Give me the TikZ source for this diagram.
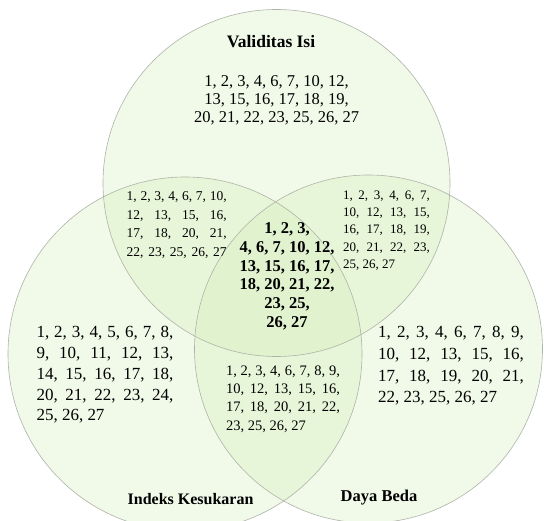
\documentclass[tikz,border=0pt]{standalone}
\usepackage{fontspec}
\setmainfont{Liberation Serif}
\definecolor{vennfill}{RGB}{215,238,190}
\definecolor{vennline}{RGB}{175,180,168}
\tikzset{
  venn/.style={fill=vennfill, fill opacity=0.35},
  vennedge/.style={draw=vennline, line width=0.6pt},
  blk/.style={anchor=base west, inner sep=0pt, outer sep=0pt},
  blkc/.style={anchor=base, inner sep=0pt, outer sep=0pt},
}
\newcommand{\jl}[1]{\makebox[\linewidth][s]{#1}}
\begin{document}
\begin{tikzpicture}[x=1pt,y=-1pt]
\useasboundingbox (0,0) rectangle (544,521);
\clip (0,0) rectangle (544,521);
\fill[white] (0,0) rectangle (544,521);
\coordinate (cT) at (276.5,183);
\coordinate (cL) at (185,354);
\coordinate (cR) at (368.5,349);
\fill[venn] (cT) circle[radius=173.5pt];
\fill[venn] (cL) circle[radius=177pt];
\fill[venn] (cR) circle[radius=174pt];
\draw[vennedge] (cT) circle[radius=173.5pt];
\draw[vennedge] (cL) circle[radius=177pt];
\draw[vennedge] (cR) circle[radius=174pt];

\node[blkc] (labT) at (271,47.8) {\fontsize{17.5}{20}\selectfont\bfseries Validitas Isi};
\node[blkc] (labL) at (190.6,504.3) {\fontsize{16}{19}\selectfont\bfseries Indeks Kesukaran};
\node[blkc] (labR) at (379,501.5) {\fontsize{16.5}{19}\selectfont\bfseries Daya Beda};

\node[blkc] (txtT) at (276.5,86.6) {\parbox[t]{220pt}{\centering\fontsize{16.5}{18}\selectfont
1, 2, 3, 4, 6, 7, 10, 12,\\
13, 15, 16, 17, 18, 19,\\
20, 21, 22, 23, 25, 26, 27}};

\node[blk] (txtTL) at (126.7,200.6) {\parbox[t]{100pt}{\fontsize{13.5}{18.7}\selectfont
\jl{1, 2, 3, 4, 6, 7, 10,}\\
\jl{12, 13, 15, 16,}\\
\jl{17, 18, 20, 21,}\\
\jl{22, 23, 25, 26, 27}}};

\node[blk] (txtTR) at (343,199.4) {\parbox[t]{87pt}{\fontsize{13}{17.3}\selectfont
\jl{1, 2, 3, 4, 6, 7,}\\
\jl{10, 12, 13, 15,}\\
\jl{16, 17, 18, 19,}\\
\jl{20, 21, 22, 23,}\\
25, 26, 27}};

\node[blkc] (txtC) at (287,233.6) {\parbox[t]{130pt}{\centering\fontsize{16.5}{18.8}\selectfont\bfseries
1, 2, 3,\\
4, 6, 7, 10, 12,\\
13, 15, 16, 17,\\
18, 20, 21, 22,\\
23, 25,\\
26, 27}};

\node[blk] (txtB) at (226,375.6) {\parbox[t]{114pt}{\fontsize{14.5}{18.2}\selectfont
\jl{1, 2, 3, 4, 6, 7, 8, 9,}\\
\jl{10, 12, 13, 15, 16,}\\
\jl{17, 18, 20, 21, 22,}\\
23, 25, 26, 27}};

\node[blk] (txtL) at (36.5,337.8) {\parbox[t]{137pt}{\fontsize{17}{20.75}\selectfont
\jl{1, 2, 3, 4, 5, 6, 7, 8,}\\
\jl{9, 10, 11, 12, 13,}\\
\jl{14, 15, 16, 17, 18,}\\
\jl{20, 21, 22, 23, 24,}\\
25, 26, 27}};

\node[blk] (txtR) at (378,337.5) {\parbox[t]{146pt}{\fontsize{17}{21.8}\selectfont
\jl{1, 2, 3, 4, 6, 7, 8, 9,}\\
\jl{10, 12, 13, 15, 16,}\\
\jl{17, 18, 19, 20, 21,}\\
22, 23, 25, 26, 27}};
\end{tikzpicture}
\end{document}
